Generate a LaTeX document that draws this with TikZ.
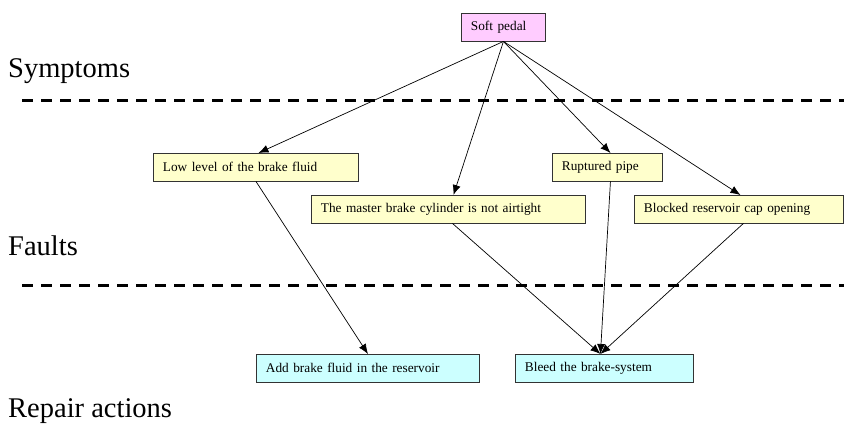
\documentclass[tikz,border=0pt]{standalone}
\usepackage{fontspec}
\setmainfont{Liberation Serif}
\usetikzlibrary{arrows.meta}
\definecolor{pinkf}{HTML}{FFCCFF}
\definecolor{yellowf}{HTML}{FFFFCC}
\definecolor{cyanf}{HTML}{CCFFFF}
\definecolor{boxline}{HTML}{333333}
\begin{document}
\begin{tikzpicture}[x=1pt,y=-1pt,
  box/.style={draw=boxline, line width=0.9pt, anchor=north west, inner xsep=9.5pt, inner ysep=0pt,
    minimum height=27.5pt, align=left, font=\fontsize{13.3}{15}\selectfont},
  level/.style={anchor=base west, inner sep=0pt, font=\fontsize{28.5}{32}\selectfont},
  sep/.style={line width=3pt, dash pattern=on 11pt off 8pt},
  arr/.style={line width=0.7pt, -{Latex[length=10pt,width=8pt]}}]
\useasboundingbox (0,0) rectangle (844,432);
% level labels
\node[level] (lsym) at (8,77) {Symptoms};
\node[level] (lfault) at (8,255) {Faults};
\node[level] (lrep) at (8,417) {Repair actions};
% separators
\coordinate (s1a) at (22,100); \coordinate (s1b) at (844,100);
\coordinate (s2a) at (22,285); \coordinate (s2b) at (844,285);
\draw[sep] (s1a) -- (s1b);
\draw[sep] (s2a) -- (s2b);
% nodes
\node[box, fill=pinkf, text width=65pt] (soft) at (461,13) {Soft pedal};
\node[box, fill=yellowf, text width=186pt] (low) at (153,153) {Low level of the brake fluid};
\node[box, fill=yellowf, text width=255pt] (master) at (311,195) {The master brake cylinder is not airtight};
\node[box, fill=yellowf, text width=91pt] (rupt) at (552,153) {Ruptured pipe};
\node[box, fill=yellowf, text width=190pt] (block) at (634,195) {Blocked reservoir cap opening};
\node[box, fill=cyanf, text width=204pt] (add) at (256,354) {Add brake fluid in the reservoir};
\node[box, fill=cyanf, text width=159pt] (bleed) at (515,354) {Bleed the brake-system};
% connectors
\draw[arr] (soft.south) -- ([xshift=2.5pt]low.north);
\draw[arr] (soft.south) -- ([xshift=5pt]master.north);
\draw[arr] (soft.south) -- ([xshift=3pt]rupt.north);
\draw[arr] (soft.south) -- ([xshift=1.5pt]block.north);
\draw[arr] (low.south) -- (add.north);
\draw[arr] ([xshift=4pt]master.south) -- ([xshift=-4pt]bleed.north);
\draw[arr] ([xshift=3pt]rupt.south) -- ([xshift=-4pt]bleed.north);
\draw[arr] ([xshift=4.5pt]block.south) -- ([xshift=-4pt]bleed.north);
\end{tikzpicture}
\end{document}
